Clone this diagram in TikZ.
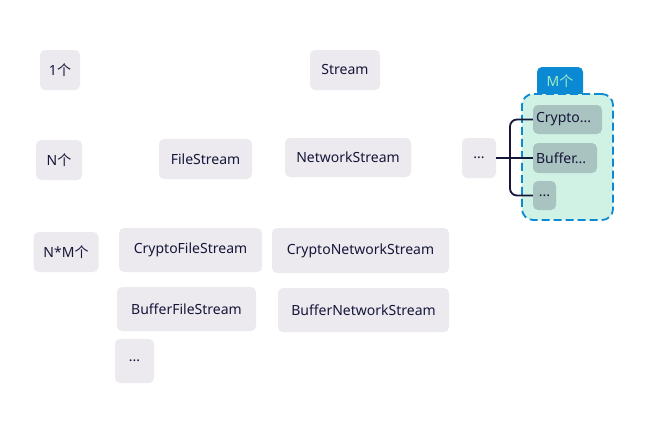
\documentclass[tikz,border=0pt]{standalone}
\usepackage{fontspec}
\setmainfont{Noto Sans}
\newfontfamily\cjk{Noto Sans CJK SC}
\newcommand{\gechar}{{\cjk 个}}
\usetikzlibrary{calc}
\definecolor{boxfill}{HTML}{ECEAEE}
\definecolor{ink}{HTML}{16163A}
\definecolor{mint}{HTML}{CFF2E4}
\definecolor{tabblue}{HTML}{0B8AD3}
\definecolor{tabtext}{HTML}{9EEBC0}
\definecolor{inner}{HTML}{A9C4C0}
\tikzset{
  box/.style={fill=boxfill, rounded corners=5pt, text=ink, font=\fontsize{14}{16}\selectfont, inner sep=0pt},
  ibox/.style={fill=inner, rounded corners=5pt, text=ink, font=\fontsize{14}{16}\selectfont, inner sep=0pt},
  conn/.style={draw=ink, line width=1.8pt, rounded corners=7pt},
  group/.style={draw=tabblue, fill=mint, line width=1.8pt, dash pattern=on 8pt off 4pt, rounded corners=11pt, inner sep=0pt},
  tab/.style={fill=tabblue, text=tabtext, font=\fontsize{14}{16}\selectfont, inner sep=0pt, rounded corners=5pt}
}
\begin{document}
\begin{tikzpicture}[x=1pt,y=-1pt]
\useasboundingbox (0,0) rectangle (671,423);
% left column
\node[box, minimum width=40pt, minimum height=40pt] (one) at (60,70) {1\gechar};
\node[box, minimum width=46pt, minimum height=40pt] (n) at (59,160) {N\gechar};
\node[box, minimum width=65pt, minimum height=40pt] (nm) at (66,252) {N*M\gechar};
% streams
\node[box, minimum width=70pt, minimum height=40pt] (stream) at (345,70) {Stream};
\node[box, minimum width=93pt, minimum height=40pt] (file) at (205.5,159) {FileStream};
\node[box, minimum width=126pt, minimum height=39pt] (net) at (348,157.5) {NetworkStream};
\node[box, minimum width=34pt, minimum height=40pt] (dots) at (479,158) {...};
\node[box, minimum width=143pt, minimum height=44pt] (cfile) at (190.5,250) {CryptoFileStream};
\node[box, minimum width=177pt, minimum height=45pt] (cnet) at (360.5,250.5) {CryptoNetworkStream};
\node[box, minimum width=139pt, minimum height=44pt] (bfile) at (186.5,309) {BufferFileStream};
\node[box, minimum width=171pt, minimum height=44pt] (bnet) at (363.5,310) {BufferNetworkStream};
\node[box, minimum width=39pt, minimum height=44pt] (more) at (134.5,361) {...};
% group
\path[tab] (537,97) -- (537,67) -- (583,67) -- (583,97) -- cycle;
\node[tab, fill=none] (mlabel) at (560,81) {M\gechar};
\node[group, minimum width=91pt, minimum height=126pt] (grp) at (567.5,157) {};
\node[ibox, minimum width=69pt, minimum height=29pt, text width=63pt, align=left] (crypto) at (567.5,119.5) {Crypto...};
\node[ibox, minimum width=64pt, minimum height=30pt, text width=58pt, align=left] (buf) at (565,158) {Buffer...};
\node[ibox, minimum width=23pt, minimum height=29pt] (etc) at (544.5,195.5) {...};
% connectors
\coordinate (bx) at (510,158);
\draw[conn] (dots.east) -- (buf.west);
\draw[conn] (crypto.west) -| (bx) |- (etc.west);
\end{tikzpicture}
\end{document}
